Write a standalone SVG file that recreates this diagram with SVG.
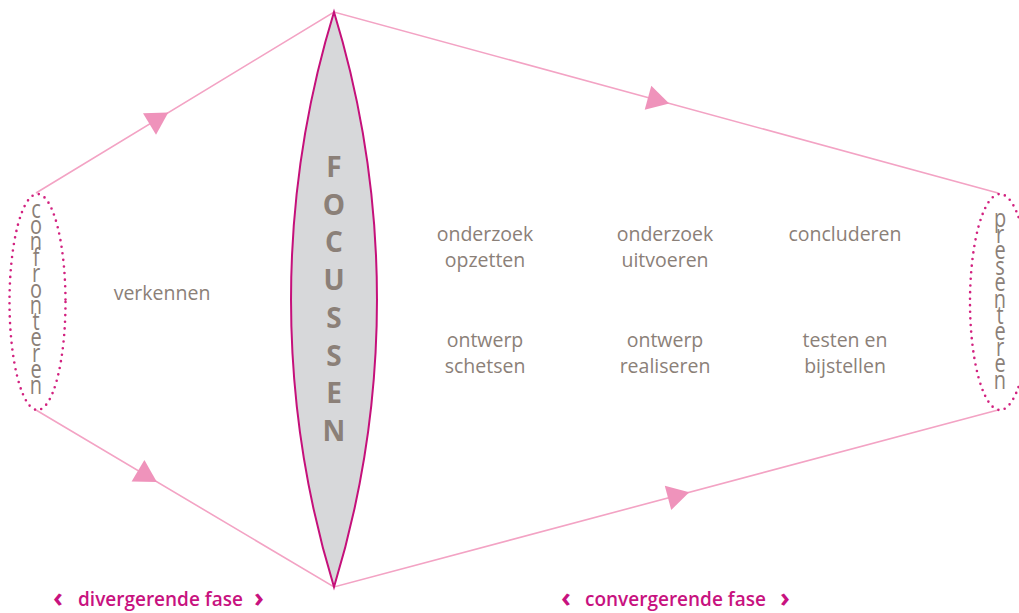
<svg xmlns="http://www.w3.org/2000/svg" width="1019" height="613" viewBox="0 0 1019 613">
  <style>
    .flow { stroke: #f3a3c4; stroke-width: 1.6; fill: none; }
    .head { fill: #ef93bb; }
    .ring { fill: none; stroke: #d2217f; stroke-width: 2.6; stroke-linecap: round; stroke-dasharray: 0 6.6; }
    .lbl { font-family: "Open Sans", "Noto Sans", sans-serif; font-size: 19.5px; fill: #8b8078; text-anchor: middle; }
    .vert { font-family: "Open Sans", "Noto Sans", sans-serif; font-size: 20px; fill: #8b8078; text-anchor: middle; }
    .lens-txt { font-family: "Open Sans", "Noto Sans", sans-serif; font-size: 28px; font-weight: 700; fill: #8b8078; text-anchor: middle; }
    .phase { font-family: "Open Sans", "Noto Sans", sans-serif; font-size: 19px; font-weight: 600; fill: #c8127f; }
    .chev { font-family: "Open Sans", "Noto Sans", sans-serif; font-size: 27px; font-weight: 700; fill: #c8127f; }
  </style>
  <defs>
    <path id="tri" d="M0,-12.5 L22,0 L0,12.5 Z"/>
  </defs>
  <rect width="1019" height="613" fill="#ffffff"/>

  <!-- connectors -->
  <g id="connectors">
    <path class="flow" d="M36,193 L334,12 L998,193"/>
    <path class="flow" d="M36,410 L334,587 L998,410"/>
    <use href="#tri" class="head" transform="translate(149.5,124) rotate(-31.4)"/>
    <use href="#tri" class="head" transform="translate(138,470.8) rotate(30.8)"/>
    <use href="#tri" class="head" transform="translate(648,97.7) rotate(15.2)"/>
    <use href="#tri" class="head" transform="translate(668,497.8) rotate(-14.9)"/>
  </g>

  <!-- start: confronteren (letters stacked, stretched vertically) -->
  <g id="confronteren">
    <ellipse class="ring" cx="37.5" cy="302" rx="28" ry="108"/>
    <g class="vert" transform="translate(36,0) scale(1,1.25)">
      <text x="0" y="174.56">c</text>
      <text x="0" y="187.36">o</text>
      <text x="0" y="200.16">n</text>
      <text x="0" y="212.96">f</text>
      <text x="0" y="225.76">r</text>
      <text x="0" y="238.56">o</text>
      <text x="0" y="251.36">n</text>
      <text x="0" y="264.16">t</text>
      <text x="0" y="276.96">e</text>
      <text x="0" y="289.76">r</text>
      <text x="0" y="302.56">e</text>
      <text x="0" y="315.36">n</text>
    </g>
  </g>

  <!-- end: presenteren -->
  <g id="presenteren">
    <ellipse class="ring" cx="1000" cy="302" rx="30" ry="108"/>
    <g class="vert" transform="translate(1000,0) scale(1,1.25)">
      <text x="0" y="181.36">p</text>
      <text x="0" y="194.32">r</text>
      <text x="0" y="207.28">e</text>
      <text x="0" y="220.24">s</text>
      <text x="0" y="233.2">e</text>
      <text x="0" y="246.16">n</text>
      <text x="0" y="259.12">t</text>
      <text x="0" y="272.08">e</text>
      <text x="0" y="285.04">r</text>
      <text x="0" y="298.0">e</text>
      <text x="0" y="310.96">n</text>
    </g>
  </g>

  <!-- lens: focussen -->
  <g id="focussen">
    <path d="M334,12 A983,983 0 0,0 334,587 A983,983 0 0,0 334,12 Z" fill="#d7d8da" stroke="#c5107a" stroke-width="2"/>
    <g class="lens-txt">
      <text x="334" y="177">F</text>
      <text x="334" y="214.7">O</text>
      <text x="334" y="252.4">C</text>
      <text x="334" y="290.1">U</text>
      <text x="334" y="327.9">S</text>
      <text x="334" y="365.6">S</text>
      <text x="334" y="403.3">E</text>
      <text x="334" y="441">N</text>
    </g>
  </g>

  <g id="verkennen"><text class="lbl" x="162" y="300">verkennen</text></g>

  <g id="onderzoek-opzetten">
    <text class="lbl" x="485" y="241">onderzoek</text>
    <text class="lbl" x="485" y="267">opzetten</text>
  </g>
  <g id="onderzoek-uitvoeren">
    <text class="lbl" x="665" y="241">onderzoek</text>
    <text class="lbl" x="665" y="267">uitvoeren</text>
  </g>
  <g id="concluderen"><text class="lbl" x="845" y="241">concluderen</text></g>

  <g id="ontwerp-schetsen">
    <text class="lbl" x="485" y="347">ontwerp</text>
    <text class="lbl" x="485" y="373">schetsen</text>
  </g>
  <g id="ontwerp-realiseren">
    <text class="lbl" x="665" y="347">ontwerp</text>
    <text class="lbl" x="665" y="373">realiseren</text>
  </g>
  <g id="testen-bijstellen">
    <text class="lbl" x="845" y="347">testen en</text>
    <text class="lbl" x="845" y="373">bijstellen</text>
  </g>

  <!-- phase captions -->
  <g id="divergerende-fase">
    <text class="chev" x="53" y="607">‹</text>
    <text class="phase" x="78" y="606">divergerende fase</text>
    <text class="chev" x="254" y="607">›</text>
  </g>
  <g id="convergerende-fase">
    <text class="chev" x="561" y="607">‹</text>
    <text class="phase" x="585" y="606">convergerende fase</text>
    <text class="chev" x="780" y="607">›</text>
  </g>
</svg>
